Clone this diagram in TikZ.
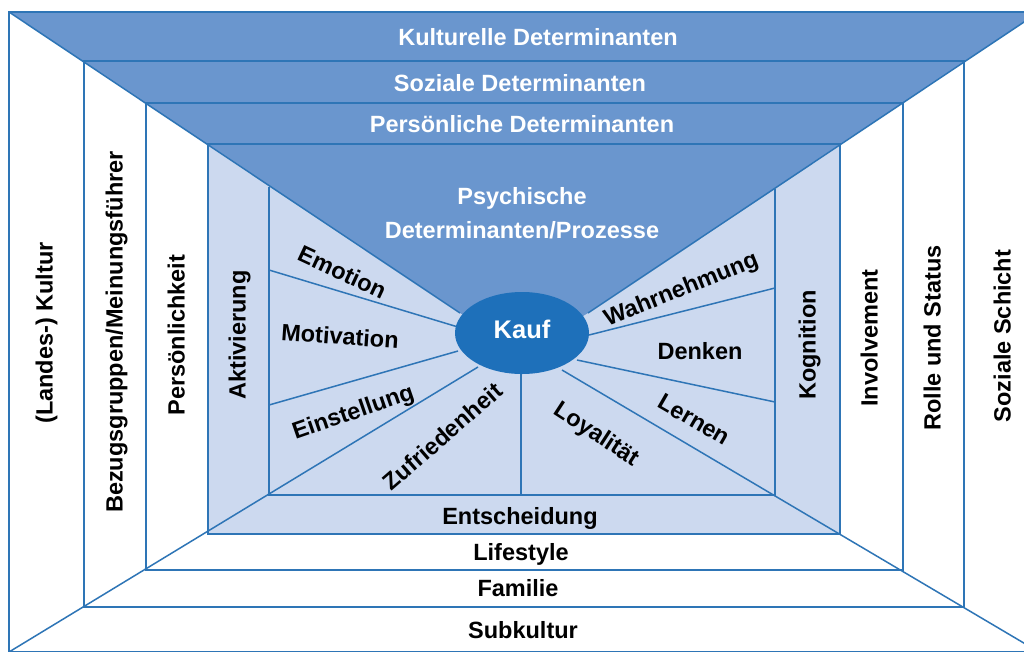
\documentclass[tikz,border=0pt]{standalone}
\usepackage{fontspec}
\setmainfont{Liberation Sans}
\definecolor{lineblue}{RGB}{46,117,182}
\definecolor{darkband}{RGB}{106,150,206}
\definecolor{lightband}{RGB}{204,217,239}
\definecolor{ellblue}{RGB}{30,112,186}
\begin{document}
\begin{tikzpicture}[x=1pt,y=-1pt,
  ln/.style={draw=lineblue,line width=1.5pt},
  lbl/.style={font=\fontsize{23.5}{27}\selectfont\bfseries,inner sep=0pt,text height=19pt,text depth=4pt},
  wlbl/.style={lbl,text=white}]
\useasboundingbox (0,0) rectangle (1024,651);
\clip (0,0) rectangle (1024,651);
\fill[white] (0,0) rectangle (1024,651);
\fill[lightband] (208,144) rectangle (840,534);
\fill[darkband] (9,12) -- (1039,12) -- (588,313) -- (524,352) -- (460,313) -- cycle;
% nested frames
\draw[ln] (9,12) rectangle (1039,652);
\draw[ln] (84,61) rectangle (964,607);
\draw[ln] (146,103) rectangle (903,570);
\draw[ln] (208,144) rectangle (840,534);
\draw[ln] (269,187) -- (269,495) -- (775,495) -- (775,189);
% diagonals
\draw[ln] (9,12) -- (460,313);
\draw[ln] (1039,12) -- (588,313);
\draw[ln] (9,652) -- (478,367);
\draw[ln] (1039,652) -- (562,370);
% inner rays
\draw[ln] (269,270) -- (458,327);
\draw[ln] (269,405) -- (458,351);
\draw[ln] (521,495) -- (521,370);
\draw[ln] (775,288) -- (589,335);
\draw[ln] (775,402) -- (577,360);
% centre
\fill[ellblue] (522,333) ellipse [x radius=67pt, y radius=41pt];
\node[wlbl,font=\fontsize{25.5}{29}\selectfont\bfseries] (kauf) at (522,331) {Kauf};
% top bands
\node[wlbl] (kult) at (538,38) {Kulturelle Determinanten};
\node[wlbl] (soz) at (520,84) {Soziale Determinanten};
\node[wlbl] (pers) at (522,125) {Persönliche Determinanten};
\node[wlbl] (psy1) at (522,197) {Psychische};
\node[wlbl] (psy2) at (522,231) {Determinanten/Prozesse};
% bottom bands
\node[lbl] (ent) at (520,517) {Entscheidung};
\node[lbl] (life) at (521,553) {Lifestyle};
\node[lbl] (fam) at (518,589) {Familie};
\node[lbl] (sub) at (523,631) {Subkultur};
% left columns
\node[lbl,rotate=90] (lk) at (45,333) {(Landes-) Kultur};
\node[lbl,rotate=90] (bez) at (115,332) {Bezugsgruppen/Meinungsführer};
\node[lbl,rotate=90] (pk) at (177,335) {Persönlichkeit};
\node[lbl,rotate=90] (akt) at (238,335) {Aktivierung};
% right columns
\node[lbl,rotate=90] (kog) at (808,345) {Kognition};
\node[lbl,rotate=90] (inv) at (870,338) {Involvement};
\node[lbl,rotate=90] (rol) at (933,338) {Rolle und Status};
\node[lbl,rotate=90] (ssch) at (1003,336) {Soziale Schicht};
% inner segments
\node[lbl,rotate=-25] (emo) at (342,273) {Emotion};
\node[lbl,rotate=-4] (mot) at (340,337) {Motivation};
\node[lbl,rotate=19] (ein) at (353,412) {Einstellung};
\node[lbl,rotate=41] (zuf) at (443,437) {Zufriedenheit};
\node[lbl,rotate=-33] (loy) at (597,434) {Loyalität};
\node[lbl,rotate=-30] (ler) at (694,420) {Lernen};
\node[lbl] (den) at (700,352) {Denken};
\node[lbl,rotate=22] (wah) at (681,289) {Wahrnehmung};
\end{tikzpicture}
\end{document}
